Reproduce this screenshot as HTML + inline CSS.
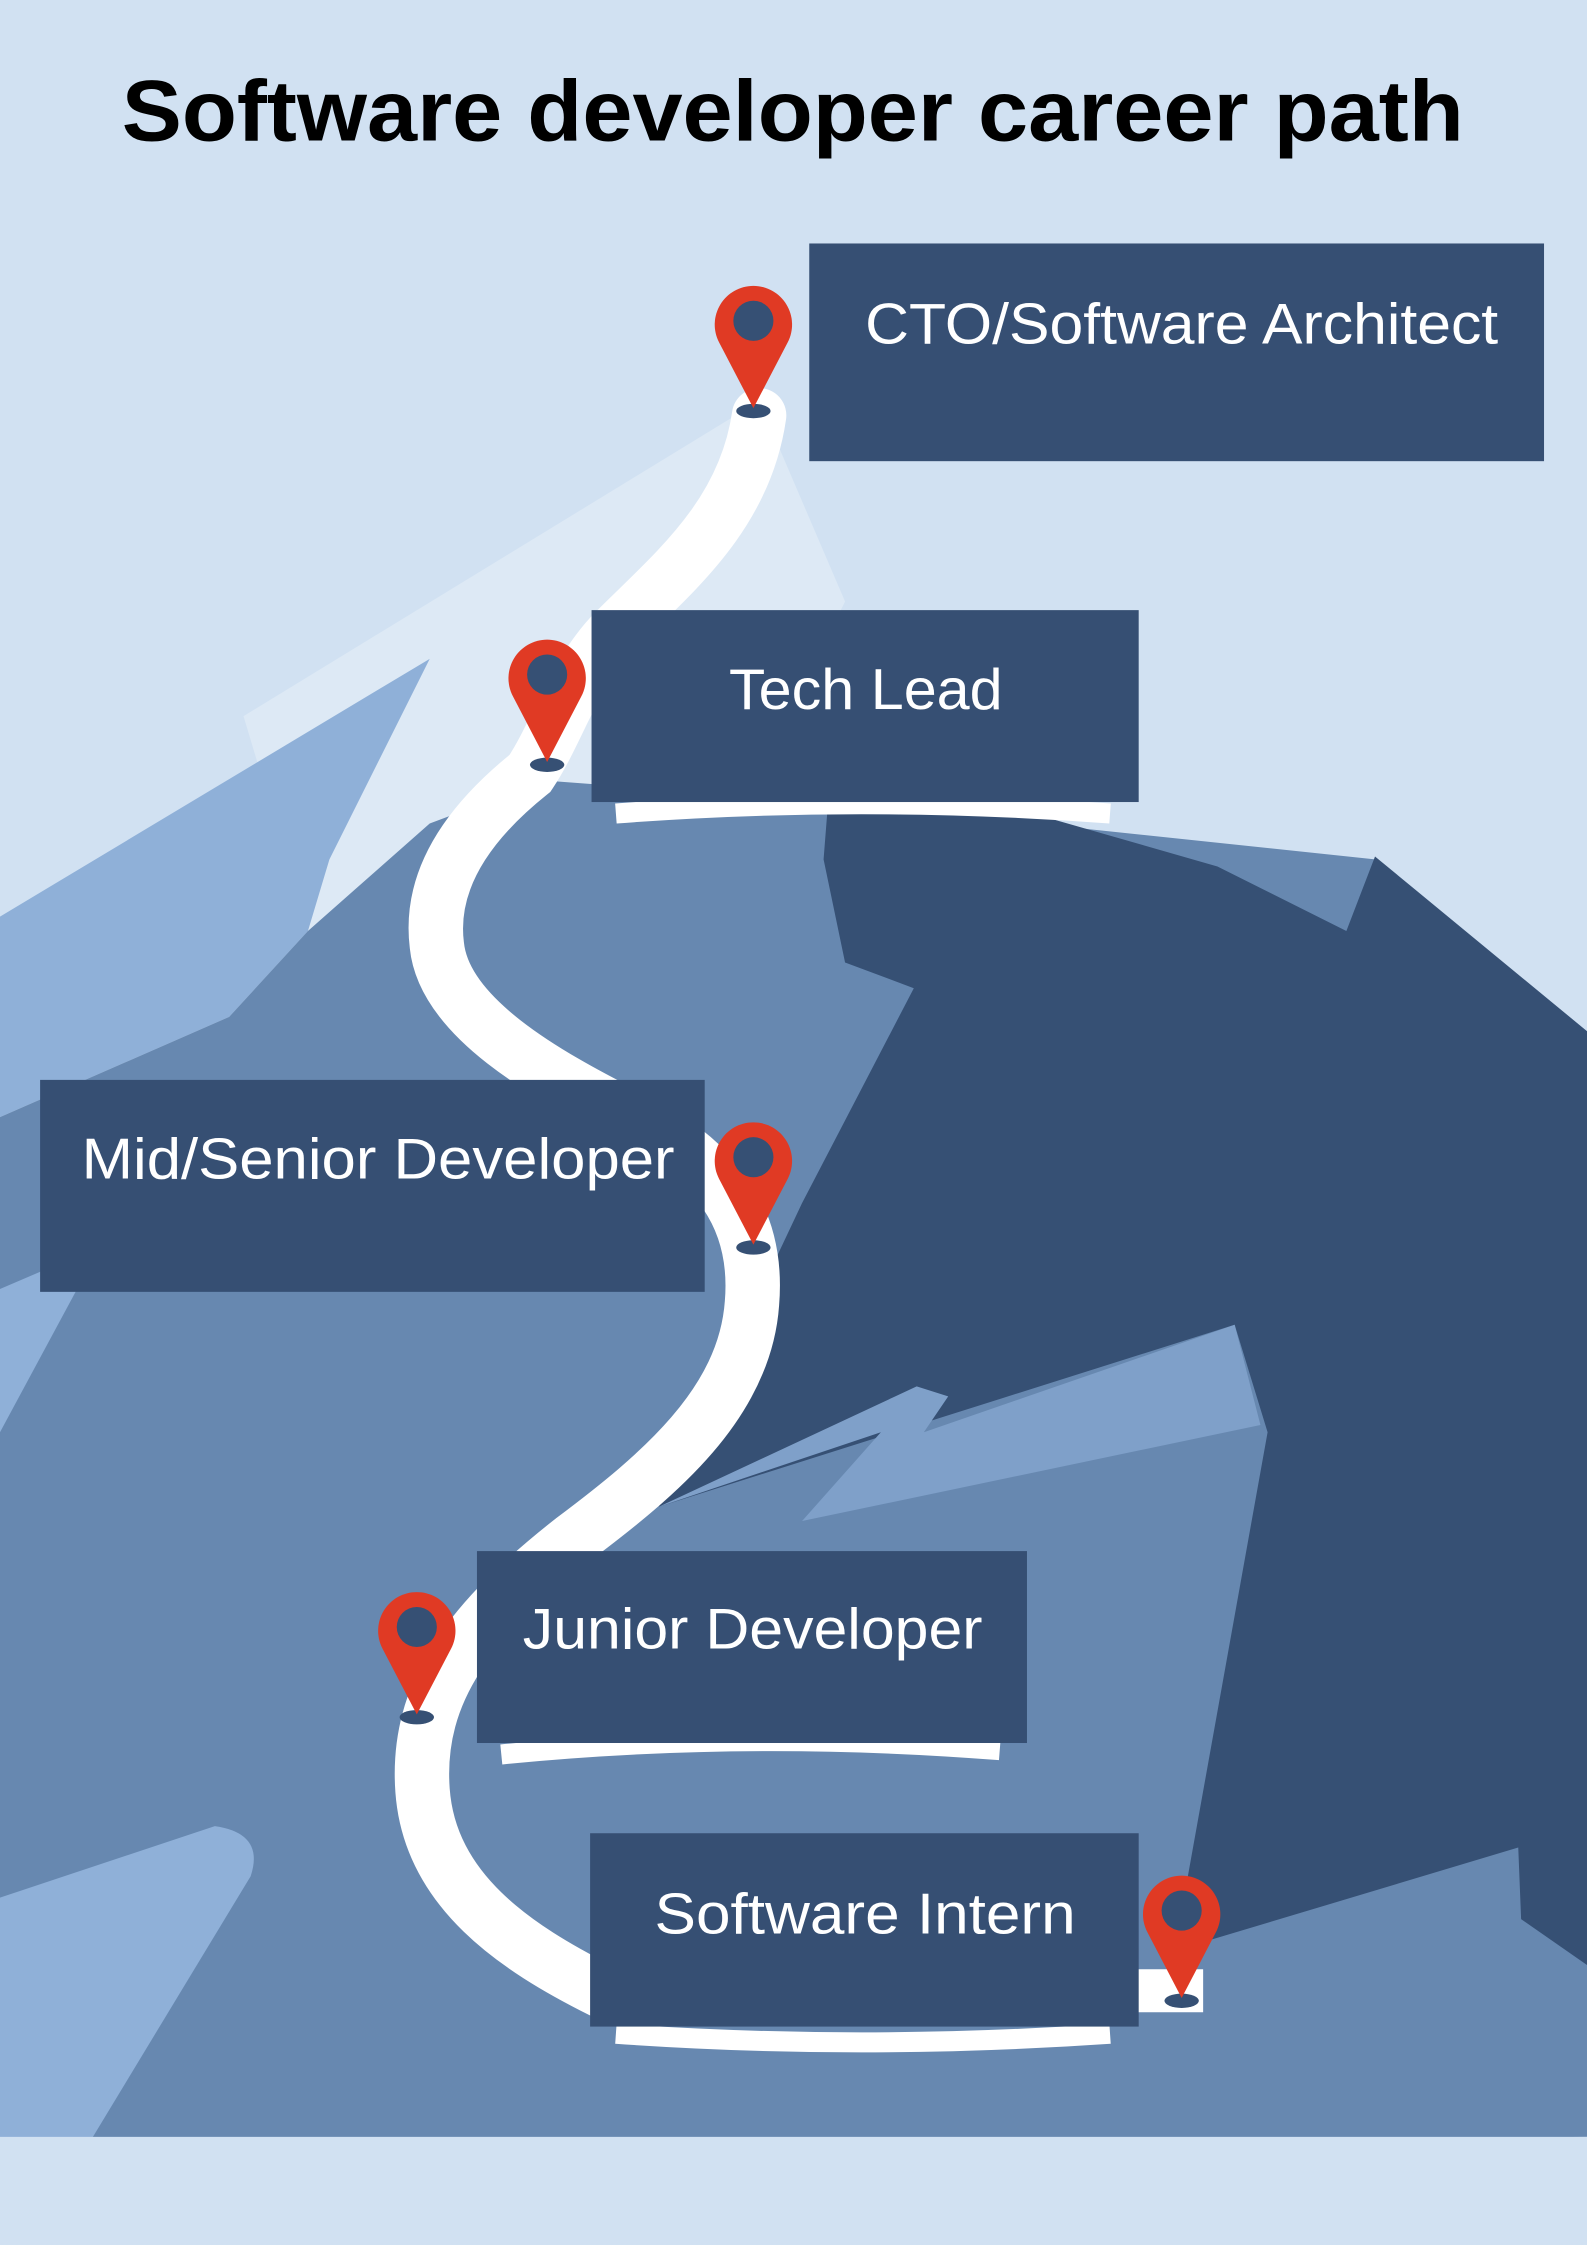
<!DOCTYPE html>
<html><head><meta charset="utf-8"><style>
html,body{margin:0;padding:0;background:#d1e1f2;}
svg{display:block;}
</style></head><body>
<svg width="1587" height="2245" viewBox="0 0 1108 1567.5" preserveAspectRatio="none" xmlns="http://www.w3.org/2000/svg">
<rect width="1108" height="1568" fill="#d1e1f2"/>
<polygon points="170,500 530,280 590,420 560,480 380,590 300,580 215,650" fill="#dde9f5"/>
<polygon points="0,640 300,460 230,600 215,650 160,710 0,780" fill="#8fb0d8"/>
<polygon points="0,780 160,710 215,650 300,575 380,545 580,560 960,600 1108,720 1108,1492 0,1500" fill="#6788b0"/>
<polygon points="0,900 70,870 0,1000" fill="#8fb0d8"/>
<polygon points="578,562 700,562 850,605 940,650 960,598 1108,720 1108,1372 1062,1340 1060,1290 820,1362 885,1000 862,925 460,1052 560,840 638,690 590,672 575,600" fill="#365074"/>
<polygon points="460,1052 640,968 662,975 645,1000 862,925 880,995 560,1062 615,1000" fill="#7fa0c9"/>
<path d="M0,1325 L150,1275 Q185,1280 175,1310 L60,1500 L0,1500 Z" fill="#8fb0d8"/>
<rect x="0" y="1492" width="1108" height="76" fill="#d1e1f2"/>
<path d="M530,290 C520,360 470,400 430,440 C400,470 390,510 370,540 C320,580 300,620 305,660 C310,710 380,750 440,780 C500,810 530,850 525,910 C520,980 460,1030 400,1075 C330,1130 290,1180 295,1250 C300,1320 360,1360 420,1390" fill="none" stroke="#ffffff" stroke-width="38" stroke-linecap="round"/>
<path d="M420,1390 L840,1390" stroke="#fff" stroke-width="30"/>
<path d="M430,568 Q600,555 775,568" stroke="#fff" stroke-width="14" fill="none"/>
<path d="M350,1225 Q520,1208 698,1222" stroke="#fff" stroke-width="14" fill="none"/>
<path d="M430,1420 Q600,1432 775,1420" stroke="#fff" stroke-width="14" fill="none"/>
<g fill="#364f73">
<rect x="565" y="170" width="513" height="152"/>
<rect x="413" y="426" width="382" height="134"/>
<rect x="28" y="754" width="464" height="148"/>
<rect x="333" y="1083" width="384" height="134"/>
<rect x="412" y="1280" width="383" height="135"/>
</g>
<g font-family="'Liberation Sans',sans-serif" fill="#fff" font-size="40" lengthAdjust="spacingAndGlyphs">
<text x="604" y="240" textLength="442" lengthAdjust="spacingAndGlyphs">CTO/Software Architect</text>
<text x="509" y="495" textLength="191" lengthAdjust="spacingAndGlyphs">Tech Lead</text>
<text x="57" y="823" textLength="414" lengthAdjust="spacingAndGlyphs">Mid/Senior Developer</text>
<text x="365" y="1151" textLength="321" lengthAdjust="spacingAndGlyphs">Junior Developer</text>
<text x="457" y="1350" textLength="294" lengthAdjust="spacingAndGlyphs">Software Intern</text>
</g>
<text x="85" y="98" textLength="937" lengthAdjust="spacingAndGlyphs" font-family="'Liberation Sans',sans-serif" font-weight="bold" font-size="60" fill="#000">Software developer career path</text>
<g>
<g transform="translate(526,227)"><ellipse cx="0" cy="60" rx="12" ry="5" fill="#365074"/><path d="M0,58 L-24,12 A27,27 0 1,1 24,12 Z" fill="#e03a24"/><circle cx="0" cy="-3" r="14" fill="#365074"/></g>
<g transform="translate(382,474)"><ellipse cx="0" cy="60" rx="12" ry="5" fill="#365074"/><path d="M0,58 L-24,12 A27,27 0 1,1 24,12 Z" fill="#e03a24"/><circle cx="0" cy="-3" r="14" fill="#365074"/></g>
<g transform="translate(526,811)"><ellipse cx="0" cy="60" rx="12" ry="5" fill="#365074"/><path d="M0,58 L-24,12 A27,27 0 1,1 24,12 Z" fill="#e03a24"/><circle cx="0" cy="-3" r="14" fill="#365074"/></g>
<g transform="translate(291,1139)"><ellipse cx="0" cy="60" rx="12" ry="5" fill="#365074"/><path d="M0,58 L-24,12 A27,27 0 1,1 24,12 Z" fill="#e03a24"/><circle cx="0" cy="-3" r="14" fill="#365074"/></g>
<g transform="translate(825,1337)"><ellipse cx="0" cy="60" rx="12" ry="5" fill="#365074"/><path d="M0,58 L-24,12 A27,27 0 1,1 24,12 Z" fill="#e03a24"/><circle cx="0" cy="-3" r="14" fill="#365074"/></g>
</g>
</svg>
</body></html>
